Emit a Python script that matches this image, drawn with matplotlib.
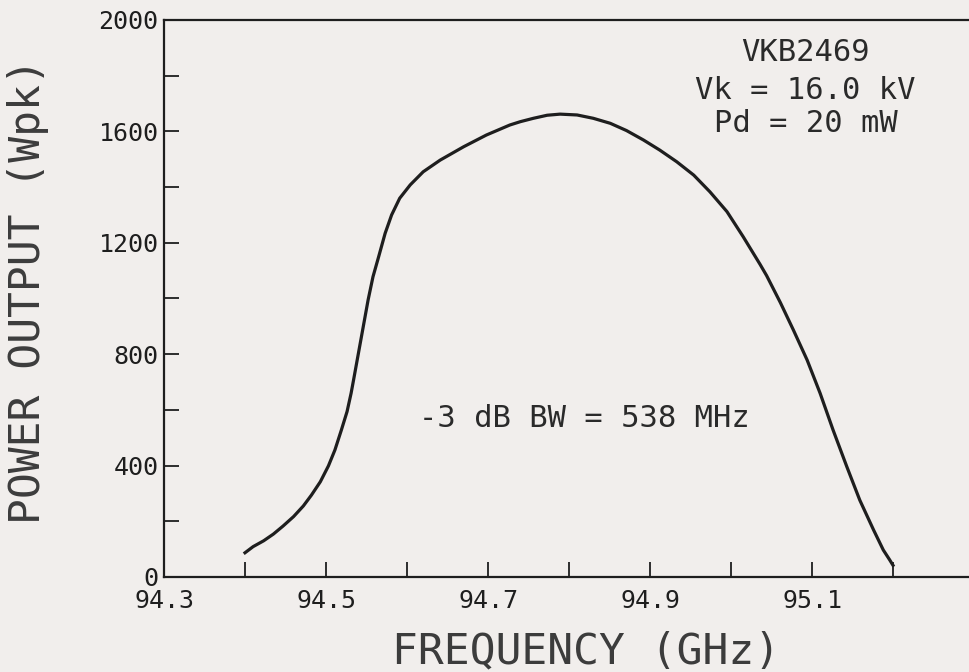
#! /usr/bin/env python3

import matplotlib
matplotlib.use('Agg')
import matplotlib.pyplot as plt
from matplotlib.ticker import MultipleLocator

# frequency (GHz) and peak power output (W)
freq = [94.400, 94.410, 94.423, 94.435, 94.447, 94.460, 94.472, 94.482,
        94.493, 94.503, 94.511, 94.519, 94.526, 94.531, 94.534, 94.552,
        94.558, 94.565, 94.573, 94.581, 94.591, 94.604, 94.620, 94.641,
        94.670, 94.698, 94.727, 94.740, 94.756, 94.773, 94.789, 94.810,
        94.830, 94.851, 94.871, 94.892, 94.912, 94.933, 94.954, 94.974,
        94.995, 95.015, 95.036, 95.044, 95.061, 95.077, 95.094, 95.110,
        95.126, 95.143, 95.159, 95.176, 95.188, 95.196, 95.200]
power = [87, 109, 130, 154, 183, 217, 255, 294,
         342, 399, 456, 528, 594, 660, 707, 995,
         1078, 1150, 1234, 1300, 1360, 1408, 1455, 1497,
         1545, 1587, 1623, 1635, 1647, 1658, 1662, 1659,
         1647, 1629, 1603, 1569, 1533, 1491, 1443, 1383,
         1312, 1222, 1122, 1082, 985, 887, 779, 660,
         528, 396, 276, 169, 97, 61, 42]

x_ticks = [94.3, 94.5, 94.7, 94.9, 95.1]
y_ticks = [0, 400, 800, 1200, 1600, 2000]

tube_info = ['VKB2469', 'Vk = 16.0 kV', 'Pd = 20 mW']
bw_note = '-3 dB BW = 538 MHz'

bg = '#f1eeec'
ink = '#1e1e1e'
plt.rcParams['font.family'] = ['DejaVu Sans Mono']

fig = plt.figure(figsize=(9.69, 6.72), dpi=100, facecolor=bg)
# right edge of the axes (95.3 GHz) sits just past the cropped picture
ax = fig.add_axes([164 / 969, 1 - 577 / 672, 810 / 969, 557 / 672])
ax.set_facecolor(bg)

ax.plot(freq, power, color=ink, lw=2.3, solid_joinstyle='round')

ax.set_xlim(94.3, 95.3)
ax.set_ylim(0, 2000)
ax.set_xticks(x_ticks)
ax.set_xticklabels([f'{t:.1f}' for t in x_ticks])
ax.set_yticks(y_ticks)
ax.set_yticklabels([str(t) for t in y_ticks])
ax.xaxis.set_minor_locator(MultipleLocator(0.1))
ax.yaxis.set_minor_locator(MultipleLocator(200))

ax.tick_params(which='both', direction='in', length=11, width=1.3, colors=ink,
               labelsize=18, top=False, right=False)
ax.tick_params(axis='x', which='both', pad=9)
ax.tick_params(axis='y', which='both', pad=4)
for s in ax.spines.values():
    s.set_color(ink)
    s.set_linewidth(1.6)

# plotter lettering is thin, so the big labels get a lighter grey
ax.set_xlabel('FREQUENCY (GHz)', fontsize=31, color='#3c3c3c', va='center')
ax.xaxis.set_label_coords(0.521, -0.133)
ax.set_ylabel('POWER OUTPUT (Wpk)', fontsize=31, color='#3c3c3c', va='center')
ax.yaxis.set_label_coords(-0.168, 0.513)

for i, line in enumerate(tube_info):
    y = [0.941, 0.874, 0.815][i]
    ax.text(0.792, y, line, transform=ax.transAxes,
            ha='center', va='center', fontsize=22, color='#2a2a2a')
ax.text(0.519, 0.285, bw_note, transform=ax.transAxes,
        ha='center', va='center', fontsize=22, color='#2a2a2a')

fig.savefig('out.png', dpi=100, facecolor=bg)
